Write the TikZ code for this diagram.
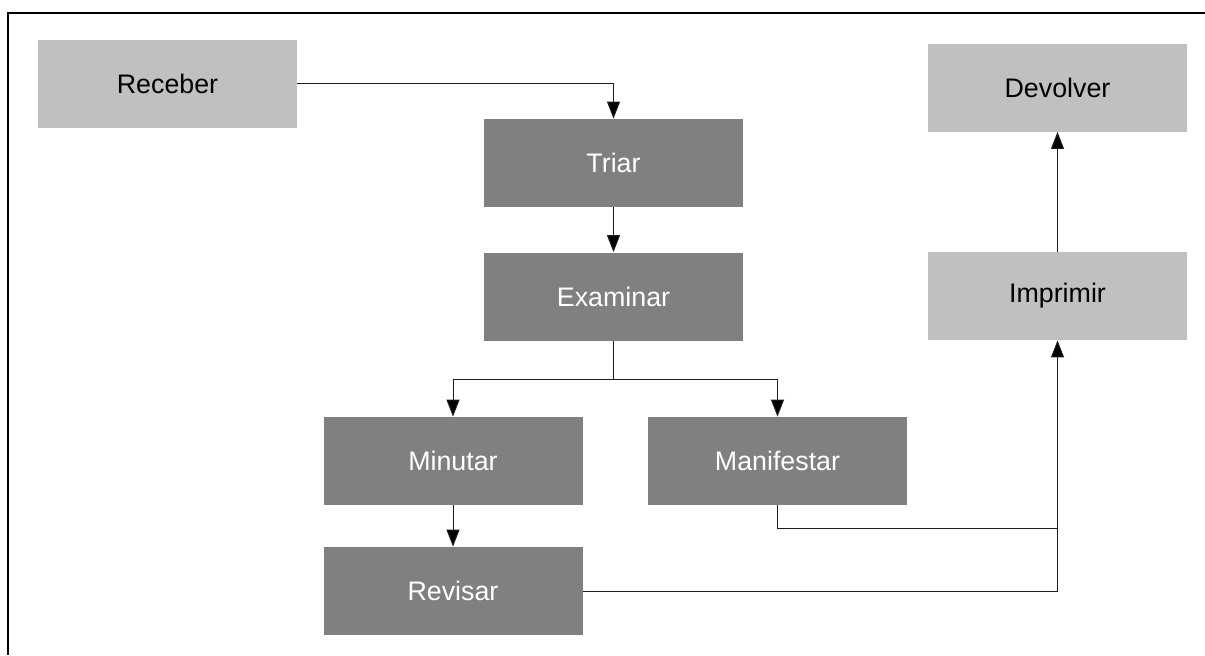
\documentclass[tikz,border=0pt]{standalone}
\usepackage{fontspec}
\setmainfont{Liberation Sans}
\usetikzlibrary{arrows.meta}
\definecolor{lightbox}{RGB}{192,192,192}
\definecolor{darkbox}{RGB}{128,128,128}
\definecolor{wire}{RGB}{30,30,30}
\begin{document}
\begin{tikzpicture}[x=0.5pt,y=-0.5pt,
  stage/.style={rectangle,inner sep=0pt,minimum width=129.5pt,minimum height=44pt,font=\fontsize{13.4}{15}\selectfont},
  outer/.style={stage,fill=lightbox,text=black},
  inner/.style={stage,fill=darkbox,text=white},
  link/.style={draw=wire,line width=0.5pt,-{Triangle[length=8.5pt,width=6.5pt,fill=black]}},
  wireline/.style={draw=wire,line width=0.5pt}]
  \useasboundingbox (0,0) rectangle (1205,655);
  % frame
  \draw[line width=1pt] (1205,13) -- (8,13) -- (8,655);
  % stages
  \node[outer] (rec) at (167.5,83.5) {Receber};
  \node[outer] (dev) at (1057.5,87.5) {Devolver};
  \node[inner] (tri) at (613.5,163) {Triar};
  \node[inner] (exa) at (613.5,296.5) {Examinar};
  \node[outer] (imp) at (1057.5,296) {Imprimir};
  \node[inner] (min) at (453,461) {Minutar};
  \node[inner] (man) at (777.5,461) {Manifestar};
  \node[inner] (rev) at (453,591) {Revisar};
  \coordinate (fork) at (613.5,379);
  \coordinate (join) at (1057.5,528);
  % flow
  \draw[link] (rec.east) -| (tri.north);
  \draw[link] (tri) -- (exa);
  \draw[wireline] (exa.south) -- (fork);
  \draw[link] (fork) -| (min.north);
  \draw[link] (fork) -| (man.north);
  \draw[link] (min) -- (rev);
  \draw[wireline] (man.south) |- (join);
  \draw[link] (rev.east) -| (imp.south);
  \draw[link] (imp) -- (dev);
\end{tikzpicture}
\end{document}
